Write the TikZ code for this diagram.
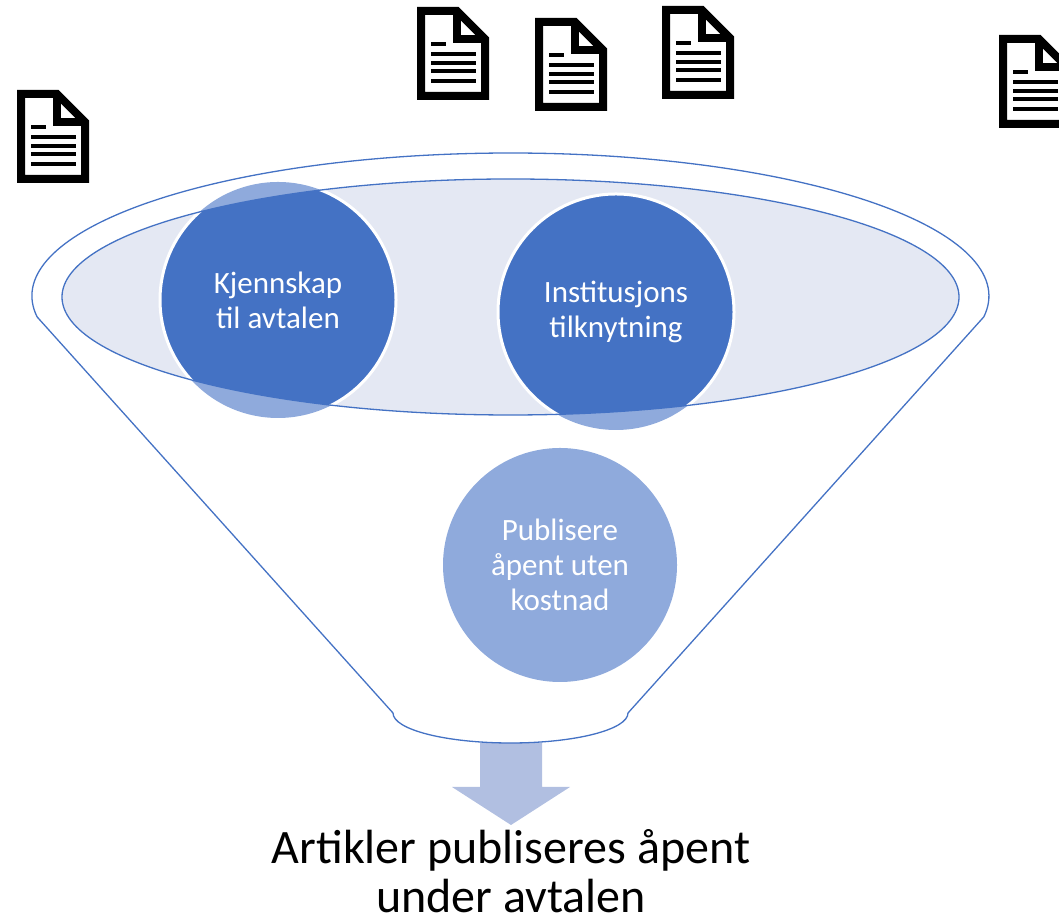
\documentclass[tikz,border=0pt]{standalone}
\usepackage{fontspec}
\setmainfont{Carlito}
\definecolor{acc}{HTML}{4472C4}
\definecolor{accl}{HTML}{8FAADC}
\definecolor{ellfill}{HTML}{E4E8F3}
\definecolor{arrowc}{HTML}{B1BFE1}
\tikzset{
  funnel/.style={draw=acc, line width=0.65pt},
  bigcirc/.style={circle, minimum size=118pt, inner sep=0pt, fill=acc, draw=white,
    line width=1.5pt, text=white, align=center, font=\fontsize{15.5pt}{17.5pt}\selectfont},
  pubcirc/.style={circle, minimum size=117pt, inner sep=0pt, fill=accl,
    text=white, align=center, font=\fontsize{15.5pt}{17.5pt}\selectfont},
  restext/.style={align=center, text=black, font=\fontsize{24pt}{24.5pt}\selectfont},
  docicon/.pic={
    \draw[line width=4pt, line join=miter, fill=white]
      (4,-4) -- (40,-4) -- (68,-32) -- (68,-89) -- (4,-89) -- cycle;
    \draw[line width=4pt, line join=miter] (40,-4) -- (40,-32) -- (68,-32);
    \fill (14,-35) rectangle (29,-39);
    \foreach \v in {47,56,64.5,74} \fill (14,-\v+2) rectangle (59,-\v-2);
  },
}
\begin{document}
\begin{tikzpicture}[x=0.5pt,y=0.5pt]
\useasboundingbox (0,0) rectangle (1059,919);
% arrow out of the funnel
\fill[arrowc] (480,176) -- (542,176) -- (542,132) -- (570,132) -- (511,94)
  -- (452,132) -- (480,132) -- cycle;
% funnel outline
\draw[funnel] (37.1,602.1) arc[start angle=188.4, end angle=-8.4, x radius=478.5, y radius=143]
  -- (628,206) arc[start angle=0, end angle=-180, x radius=117.5, y radius=30] -- cycle;
% inner ellipse
\fill[ellfill] (510.5,622) ellipse[x radius=448.5, y radius=118];
\fill[accl] (278,619) circle[radius=118];
\fill[accl] (616,607) circle[radius=118];
\begin{scope}
  \clip (510.5,622) ellipse[x radius=448.5, y radius=118];
  \node[bigcirc] (kj) at (278,619) {Kjennskap\\til avtalen};
  \node[bigcirc] (inst) at (616,607) {Institusjons\\tilknytning};
\end{scope}
\draw[funnel] (510.5,622) ellipse[x radius=448.5, y radius=118];
\node[pubcirc] (pub) at (560,354) {Publisere\\åpent uten\\kostnad};
\node[restext] (res) at (511,48) {Artikler publiseres åpent\\under avtalen};
% document icons
\pic at (17,829) {docicon};
\pic at (417,912) {docicon};
\pic at (535,901) {docicon};
\pic at (662,913) {docicon};
\pic at (999,884) {docicon};
\end{tikzpicture}
\end{document}
